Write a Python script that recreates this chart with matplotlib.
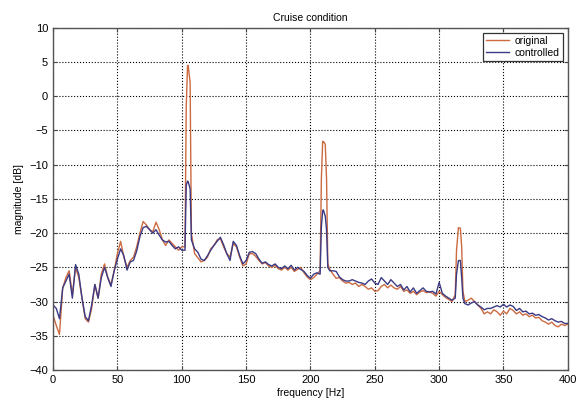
import numpy as np
import matplotlib
matplotlib.use("Agg")
import matplotlib.pyplot as plt

plt.rcParams["font.family"] = ["Liberation Sans", "DejaVu Sans"]

# -----------------------------------------------
# Spectrum data (2.5 Hz grid)
# -----------------------------------------------
freq = np.arange(0, 400.1, 2.5)

original = [
    -32.0, -33.5, -34.8, -28.0, -26.5, -25.5, -29.0, -25.0, -26.5, -29.5,   # 0 - 22.5
    -32.5, -33.0, -31.0, -27.5, -29.5, -26.0, -24.5, -26.5, -27.5, -25.5,   # 25 - 47.5
    -23.0, -21.2, -23.5, -25.0, -24.0, -23.5, -22.0, -20.0, -18.3, -18.8,   # 50 - 72.5
    -19.5, -19.8, -18.4, -19.5, -21.0, -21.8, -21.0, -21.5, -22.0, -22.5,   # 75 - 97.5
    -22.0, -22.0, 4.5, -20.0, -23.0, -23.6, -24.2, -24.0, -23.5, -22.3,     # 100 - 122.5
    -21.8, -21.0, -20.8, -22.0, -23.0, -23.5, -21.5, -22.0, -23.5, -24.8,   # 125 - 147.5
    -24.5, -23.0, -23.0, -23.4, -24.0, -24.5, -24.3, -24.8, -25.0, -24.7,   # 150 - 172.5
    -25.2, -25.4, -25.0, -25.4, -25.0, -25.6, -25.3, -25.0, -25.8, -26.4,   # 175 - 197.5
    -26.8, -26.5, -26.0, -25.5, -6.6, -12.0, -25.3, -26.0, -26.6, -26.5,    # 200 - 222.5
    -27.0, -27.3, -27.2, -27.5, -27.3, -27.8, -27.5, -27.8, -28.2, -28.0,   # 225 - 247.5
    -28.5, -28.4, -27.8, -27.5, -28.0, -27.6, -28.0, -28.2, -27.8, -28.5,   # 250 - 272.5
    -28.3, -28.8, -28.5, -29.0, -28.6, -28.4, -28.7, -28.6, -28.8, -29.2,   # 275 - 297.5
    -28.5, -29.0, -29.4, -29.7, -30.0, -29.0, -19.2, -22.0, -30.0, -29.8,   # 300 - 322.5
    -29.5, -30.0, -30.5, -31.0, -31.8, -31.5, -31.8, -31.2, -31.5, -32.0,   # 325 - 347.5
    -31.4, -31.8, -31.0, -31.3, -31.8, -31.5, -32.0, -31.8, -32.2, -32.0,   # 350 - 372.5
    -32.4, -32.3, -32.8, -33.0, -33.3, -33.0, -33.5, -33.7, -33.3, -33.5,   # 375 - 397.5
    -33.3,                                                                  # 400
]

controlled = [
    -30.5, -31.0, -32.5, -28.0, -27.0, -26.0, -29.5, -24.6, -26.0, -29.5,
    -32.2, -32.8, -30.5, -27.5, -29.5, -26.5, -25.0, -26.5, -27.8, -25.5,
    -23.8, -22.3, -23.3, -25.4, -24.2, -24.0, -22.6, -20.5, -19.2, -19.0,
    -19.5, -20.0, -19.5, -20.3, -21.0, -21.3, -21.2, -21.8, -22.3, -22.0,
    -22.5, -22.5, -12.5, -21.0, -22.3, -22.8, -23.8, -24.0, -23.3, -22.5,
    -21.8, -21.2, -20.6, -21.7, -23.0, -24.0, -21.2, -21.8, -23.3, -24.5,
    -24.0, -22.8, -22.7, -23.0, -23.8, -24.4, -24.2, -24.6, -24.8, -24.5,
    -25.0, -25.2, -24.8, -25.2, -24.7, -25.4, -25.0, -25.3, -25.6, -26.2,
    -26.6, -26.0, -25.8, -26.0, -16.6, -19.5, -25.5, -25.5, -25.6, -26.4,
    -26.8, -27.0, -27.0, -26.8, -27.0, -27.2, -27.3, -27.5, -27.0, -26.7,
    -27.3, -27.5, -26.5, -27.0, -27.5, -26.8, -27.3, -27.8, -27.5, -28.3,
    -27.8, -28.6, -28.0, -28.8, -28.4, -28.0, -28.5, -28.6, -28.5, -28.9,
    -27.2, -28.8, -29.2, -29.5, -29.8, -29.5, -24.0, -26.5, -30.3, -30.5,
    -30.2, -30.0, -30.5, -30.8, -31.2, -31.0, -31.0, -30.8, -30.6, -30.8,
    -30.4, -30.8, -30.5, -30.7, -31.3, -31.0, -31.5, -31.4, -31.8, -31.7,
    -32.0, -31.9, -32.2, -32.4, -32.7, -32.5, -32.8, -33.0, -32.9, -33.2,
    -33.2,
]

# extra samples on the narrow tonal peaks (105, 210, 315 Hz)
peak_freq = [103.5, 104.5, 106.5, 208.5, 209.5, 211.5, 213.5, 313.5, 316.5, 318.5]
peak_original = [-1.5, 4.5, 2.0, -12.0, -6.6, -7.0, -24.5, -22.5, -19.3, -28.5]
peak_controlled = [-13.0, -12.4, -13.5, -19.0, -16.8, -17.5, -25.0, -26.0, -24.0, -29.5]

# merge grid and peak samples, sorted by frequency
f_all = np.concatenate([freq, peak_freq])
order = np.argsort(f_all, kind="stable")
f_all = f_all[order]
orig_all = np.concatenate([original, peak_original])[order]
ctrl_all = np.concatenate([controlled, peak_controlled])[order]

# -----------------------------------------------
# Figure
# -----------------------------------------------
fig = plt.figure(figsize=(5.83, 4.05), dpi=100)
ax = fig.add_axes([0.091, 0.0864, 0.883, 0.845])

ax.plot(f_all, orig_all, color="#cc6a40", linewidth=1.0, label="original")
ax.plot(f_all, ctrl_all, color="#3a3a85", linewidth=1.0, label="controlled")

ax.set_xlim(0, 400)
ax.set_ylim(-40, 10)
ax.set_xticks(np.arange(0, 401, 50))
ax.set_yticks(np.arange(-40, 11, 5))

ax.grid(True, color="black", linestyle=":", linewidth=0.8)
ax.tick_params(direction="in", top=True, right=True, labelsize=8, length=3,
               color="#444444")
for spine in ax.spines.values():
    spine.set_color("#555555")
    spine.set_linewidth(1.0)

ax.set_title("Cruise condition", fontsize=7.5, pad=5)
ax.set_xlabel("frequency [Hz]", fontsize=7.5, labelpad=2)
ax.set_ylabel("magnitude [dB]", fontsize=7.5, labelpad=4)

leg = ax.legend(loc="upper right", fontsize=7.5, handlelength=2.2,
                borderaxespad=0.5, fancybox=False, framealpha=1.0,
                borderpad=0.3, labelspacing=0.15, handletextpad=0.5)
leg.get_frame().set_edgecolor("#333333")
leg.get_frame().set_linewidth(0.9)

fig.savefig("out.png", dpi=100, facecolor="white")
plt.close(fig)
